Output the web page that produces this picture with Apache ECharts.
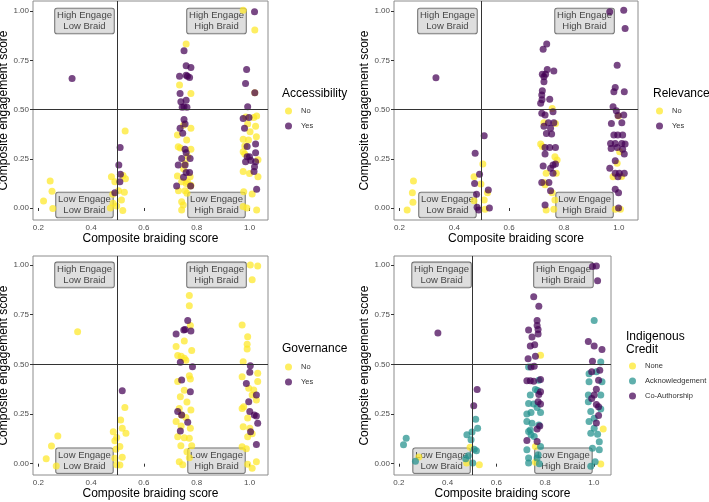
<!DOCTYPE html>
<html>
<head>
<meta charset="utf-8">
<script src="https://cdn.jsdelivr.net/npm/echarts@6/dist/echarts.min.js"></script>
<style>
  html, body { margin: 0; padding: 0; background: #fff; }
  #chart { width: 709px; height: 502px; }
</style>
</head>
<body>
<div id="chart"></div>
<script>
// ---- data: [braiding score (jittered), engagement score] ----
var accNo = [[0.245,0.137],[0.252,0.085],[0.22,0.036],[0.255,-0.002],
  [0.529,0.391],[0.477,0.159],[0.521,0.165],[0.49,0.134],[0.53,0.149],[0.504,0.088],[0.526,0.08],[0.482,0.07],[0.515,0.041],[0.483,0.024],[0.497,0.01],[0.473,0.0],[0.52,-0.013],
  [0.76,0.833],[0.735,0.625],[0.778,0.582],[0.778,0.405],[0.75,0.42],[0.727,0.371],[0.762,0.345],[0.73,0.311],[0.738,0.305],[0.778,0.298],[0.766,0.262],[0.756,0.227],[0.75,0.2],[0.727,0.163],[0.775,0.159],[0.765,0.134],[0.743,0.134],[0.76,0.125],[0.778,0.115],[0.777,0.112],[0.731,0.088],[0.756,0.088],[0.763,0.075],[0.743,0.032],[0.749,0.015],[0.743,-0.01],
  [0.976,1.005],[1.02,0.904],[1.02,0.586],[0.986,0.462],[1.016,0.46],[1.027,0.467],[0.993,0.427],[1.023,0.416],[1.002,0.388],[1.026,0.362],[0.976,0.349],[0.996,0.345],[0.982,0.315],[0.976,0.286],[0.982,0.275],[1.032,0.245],[0.976,0.185],[1.0,0.175],[1.032,0.159],[0.978,0.083],[1.01,0.071],[0.976,0.007],[0.99,0.0],[1.027,-0.01]];
var accYes = [[0.328,0.658],
  [0.51,0.308],[0.505,0.218],[0.511,0.171],[0.509,0.134],[0.49,0.078],
  [0.752,0.799],[0.76,0.723],[0.778,0.714],[0.765,0.67],[0.773,0.663],[0.735,0.67],[0.76,0.675],[0.737,0.582],[0.74,0.54],[0.76,0.548],[0.752,0.515],[0.763,0.512],[0.745,0.512],[0.752,0.45],[0.756,0.427],[0.737,0.405],[0.747,0.38],[0.756,0.298],[0.76,0.281],[0.743,0.252],[0.775,0.252],[0.73,0.218],[0.756,0.218],[0.76,0.18],[0.773,0.18],[0.75,0.156],[0.724,0.112],[0.777,0.112],
  [1.019,0.997],[0.989,0.704],[0.985,0.633],[1.02,0.586],[0.993,0.515],[0.976,0.455],[0.998,0.46],[0.981,0.405],[1.023,0.325],[0.991,0.312],[0.991,0.261],[1.0,0.261],[1.023,0.281],[0.985,0.235],[1.005,0.242],[1.023,0.235],[1.019,0.21],[1.017,0.185],[1.027,0.095]];

var relNo = [[0.251,0.137],[0.247,0.078],[0.249,0.029],[0.228,-0.01],
  [0.504,0.224],[0.472,0.159],[0.497,0.122],[0.521,0.078],[0.509,0.041],[0.472,0.037],[0.512,-0.007],
  [0.757,0.506],[0.727,0.433],[0.769,0.43],[0.715,0.325],[0.721,0.312],[0.767,0.261],[0.775,0.244],[0.772,0.176],[0.735,0.176],[0.727,0.129],[0.731,0.118],[0.757,0.078],[0.767,0.041],[0.763,-0.007],[0.735,-0.01],
  [0.999,0.467],[1.003,0.286],[0.994,0.227],[0.979,0.159],[1.01,0.16],[0.987,-0.007],[1.006,-0.007]];
var relYes = [[0.333,0.662],
  [0.476,0.278],[0.509,0.367],[0.492,0.171],[0.474,0.125],[0.524,0.091],[0.481,0.07],[0.483,0.004],[0.489,-0.01],[0.528,0.0],
  [0.737,0.833],[0.724,0.807],[0.739,0.704],[0.763,0.696],[0.721,0.68],[0.733,0.68],[0.727,0.667],[0.727,0.641],[0.721,0.596],[0.719,0.574],[0.748,0.553],[0.72,0.55],[0.715,0.532],[0.76,0.489],[0.719,0.481],[0.731,0.472],[0.743,0.433],[0.763,0.433],[0.751,0.405],[0.727,0.416],[0.736,0.379],[0.755,0.376],[0.731,0.308],[0.748,0.308],[0.769,0.308],[0.731,0.274],[0.76,0.219],[0.769,0.224],[0.751,0.202],[0.724,0.213],[0.76,0.176],[0.719,0.129],[0.745,0.129],[0.751,0.088],[0.731,0.015],
  [0.967,0.997],[1.018,1.005],[1.023,0.912],[0.994,0.726],[0.987,0.613],[0.982,0.591],[1.02,0.591],[0.979,0.515],[0.991,0.494],[0.997,0.47],[1.018,0.472],[1.011,0.433],[0.973,0.43],[0.982,0.371],[0.996,0.371],[1.014,0.371],[0.97,0.328],[0.987,0.328],[1.011,0.328],[1.023,0.325],[0.972,0.303],[0.994,0.308],[1.014,0.298],[1.02,0.274],[0.987,0.24],[0.967,0.202],[0.987,0.176],[1.002,0.176],[1.02,0.176],[0.997,0.159],[0.987,0.095],[0.999,0.078],[0.999,0.0]];

var govNo = [[0.349,0.664],[0.274,0.139],[0.25,0.089],[0.23,0.025],[0.268,-0.012],
  [0.528,0.283],[0.512,0.22],[0.484,0.161],[0.518,0.178],[0.532,0.153],[0.497,0.132],[0.49,0.115],[0.509,0.086],[0.494,0.072],[0.518,0.032],[0.49,0.027],[0.509,-0.007],[0.497,-0.005],
  [0.772,0.846],[0.772,0.795],[0.776,0.695],[0.753,0.617],[0.722,0.589],[0.781,0.569],[0.728,0.544],[0.741,0.54],[0.753,0.53],[0.759,0.52],[0.772,0.443],[0.776,0.426],[0.728,0.413],[0.753,0.37],[0.738,0.337],[0.763,0.31],[0.734,0.278],[0.778,0.27],[0.743,0.245],[0.759,0.232],[0.722,0.212],[0.741,0.19],[0.776,0.178],[0.728,0.136],[0.753,0.13],[0.772,0.128],[0.781,0.09],[0.74,0.09],[0.763,0.06],[0.772,0.03],[0.734,0.01],[0.747,-0.005],
  [1.003,1.0],[1.031,0.995],[1.01,0.925],[0.972,0.698],[0.993,0.639],[0.991,0.601],[0.991,0.577],[0.976,0.513],[1.031,0.455],[0.972,0.438],[1.031,0.413],[0.997,0.379],[1.016,0.371],[1.01,0.346],[1.026,0.321],[0.978,0.287],[0.972,0.278],[0.993,0.23],[0.976,0.186],[1.001,0.178],[1.01,0.15],[0.993,0.136],[0.972,0.085],[0.988,0.075],[1.026,0.01],[0.993,-0.003],[1.01,-0.023]];
var govYes = [[0.518,0.367],
  [0.766,0.72],[0.751,0.673],[0.756,0.675],[0.778,0.668],[0.722,0.653],[0.738,0.51],[0.784,0.488],[0.743,0.421],[0.776,0.362],[0.728,0.262],[0.743,0.245],[0.766,0.208],[0.738,0.165],
  [1.003,0.493],[1.001,0.46],[0.988,0.404],[1.026,0.346],[0.997,0.312],[1.001,0.262],[1.018,0.245],[1.026,0.24],[1.031,0.203],[1.004,0.161],[1.026,0.097]];

var creditNone = [[0.282,0.033],[0.492,0.083],[0.478,0.003],[0.53,-0.005],[0.781,0.545],[0.76,0.087],[0.76,0.007],[1.038,0.175],[1.028,-0.002]];
var creditAck = [[0.219,0.095],[0.23,0.128],[0.268,0.012],
  [0.515,0.223],[0.523,0.178],[0.479,0.145],[0.5,0.16],[0.496,0.12],[0.509,0.073],[0.518,0.065],[0.485,0.04],[0.503,0.003],[0.474,0.025],
  [0.732,0.487],[0.76,0.373],[0.774,0.42],[0.769,0.368],[0.739,0.345],[0.753,0.3],[0.732,0.303],[0.767,0.283],[0.781,0.258],[0.725,0.25],[0.742,0.258],[0.725,0.212],[0.746,0.203],[0.774,0.195],[0.739,0.17],[0.732,0.162],[0.755,0.137],[0.742,0.145],[0.781,0.087],[0.725,0.07],[0.771,0.045],[0.732,0.028],[0.767,0.028],[0.732,0.003],[0.776,0.0],
  [1.001,0.72],[1.028,0.512],[1.01,0.462],[0.98,0.453],[0.98,0.412],[1.033,0.412],[0.977,0.345],[1.028,0.345],[0.977,0.312],[1.028,0.275],[0.987,0.262],[1.001,0.228],[0.98,0.212],[1.001,0.178],[0.987,0.153],[1.015,0.148],[1.022,0.11],[1.022,0.07],[0.994,0.078],[1.005,0.01],[0.987,-0.013]];
var creditCo = [[0.36,0.657],
  [0.521,0.373],[0.507,0.292],
  [0.753,0.84],[0.774,0.792],[0.767,0.72],[0.767,0.695],[0.771,0.675],[0.771,0.653],[0.732,0.673],[0.746,0.637],[0.739,0.592],[0.757,0.598],[0.76,0.54],[0.73,0.528],[0.742,0.487],[0.755,0.49],[0.725,0.417],[0.739,0.417],[0.753,0.415],[0.781,0.423],[0.781,0.362],[0.774,0.348],[0.781,0.3],[0.771,0.312],[0.778,0.19],[0.767,0.175],[0.725,0.117],[0.767,0.112],
  [0.994,0.992],[1.01,0.995],[1.015,0.92],[0.977,0.615],[1.001,0.592],[1.033,0.575],[0.994,0.515],[0.991,0.462],[1.024,0.47],[1.019,0.42],[1.01,0.375],[1.001,0.345],[0.991,0.328],[1.01,0.298],[1.019,0.287],[1.019,0.242],[1.01,0.205]];

var xTicks = [0.2, 0.4, 0.6, 0.8, 1.0];
var yTicks = [0, 0.25, 0.5, 0.75, 1.0];
var quadLabels = ['High Engage\nLow Braid', 'High Engage\nHigh Braid', 'Low Engage\nLow Braid', 'Low Engage\nHigh Braid'];
var quadPos = [[0.375, 0.95], [0.875, 0.95], [0.375, 0.015], [0.875, 0.015]];

var YELLOW = '#FDE725', TEAL = '#21908C', PURPLE = '#440154';
var FONT = '"Liberation Sans", Arial, sans-serif';

var panels = [
  {title: 'Accessibility', groups: [['No', accNo, YELLOW], ['Yes', accYes, PURPLE]],
   grid: {left: 33, top: 1, width: 235, height: 219}, yRange: [-0.061, 1.052],
   titlePos: [282, 87], legendPos: [285, 107]},
  {title: 'Relevance', groups: [['No', relNo, YELLOW], ['Yes', relYes, PURPLE]],
   grid: {left: 394, top: 1, width: 244, height: 219}, yRange: [-0.061, 1.052],
   titlePos: [653, 87], legendPos: [656, 107]},
  {title: 'Governance', groups: [['No', govNo, YELLOW], ['Yes', govYes, PURPLE]],
   grid: {left: 33, top: 256, width: 235, height: 219}, yRange: [-0.057, 1.045],
   titlePos: [282, 342], legendPos: [285, 363]},
  {title: 'Indigenous\nCredit', groups: [['None', creditNone, YELLOW], ['Acknowledgement', creditAck, TEAL], ['Co-Authorship', creditCo, PURPLE]],
   grid: {left: 394, top: 256, width: 217, height: 219}, yRange: [-0.057, 1.045],
   titlePos: [626, 330], legendPos: [629, 362]}
];

var option = {
  animation: false,
  textStyle: {fontFamily: FONT},
  title: [], legend: [], grid: [], xAxis: [], yAxis: [], series: []
};

panels.forEach(function (p, i) {
  option.grid.push(Object.assign({
    show: true, borderColor: '#8c8c8c', borderWidth: 1, backgroundColor: '#fff',
    containLabel: false, outerBoundsMode: 'none'
  }, p.grid));
  option.xAxis.push({
    type: 'value', gridIndex: i, min: 0.18, max: 1.07,
    axisLine: {show: false},
    axisTick: {show: true, length: 3, customValues: xTicks, lineStyle: {color: '#333'}},
    axisLabel: {customValues: xTicks, fontSize: 8, color: '#4d4d4d', margin: 4,
      formatter: function (v) { return v.toFixed(1); }},
    splitLine: {show: false},
    name: 'Composite braiding score', nameLocation: 'middle', nameGap: 13,
    nameTextStyle: {fontSize: 12, color: '#000'}
  });
  option.yAxis.push({
    type: 'value', gridIndex: i, min: p.yRange[0], max: p.yRange[1],
    axisLine: {show: false},
    axisTick: {show: true, length: 3, customValues: yTicks, lineStyle: {color: '#333'}},
    axisLabel: {customValues: yTicks, fontSize: 8, color: '#4d4d4d', margin: 4,
      formatter: function (v) { return v.toFixed(2); }},
    splitLine: {show: false},
    name: 'Composite engagement score', nameLocation: 'middle', nameGap: 19,
    nameTextStyle: {fontSize: 12, color: '#000'}
  });
  option.title.push({
    text: p.title, left: p.titlePos[0], top: p.titlePos[1], padding: 0,
    textStyle: {fontSize: 12, fontWeight: 'normal', color: '#000', fontFamily: FONT, lineHeight: 13}
  });
  option.legend.push({
    left: p.legendPos[0], top: p.legendPos[1], orient: 'vertical', padding: 0,
    data: p.groups.map(function (g) { return g[0]; }),
    icon: 'circle', itemWidth: 7, itemHeight: 7, itemGap: 7, selectedMode: false,
    textStyle: {fontSize: 7.5, color: '#333', padding: [0, 0, 0, 4], fontFamily: FONT}
  });
  // quadrant labels (behind points) + reference lines at 0.5
  option.series.push({
    type: 'scatter', xAxisIndex: i, yAxisIndex: i, z: 1, silent: true,
    symbolSize: 1, itemStyle: {color: 'rgba(0,0,0,0)'},
    data: quadPos,
    label: {
      show: true, position: 'inside',
      formatter: function (d) { return quadLabels[d.dataIndex]; },
      backgroundColor: '#d6d6d6', borderColor: '#444', borderWidth: 0.8, borderRadius: 2,
      padding: [1, 2], fontSize: 9.5, lineHeight: 11.5, color: '#1a1a1a', align: 'center'
    },
    markLine: {
      silent: true, symbol: 'none', label: {show: false},
      lineStyle: {color: '#333', width: 1, type: 'solid'},
      data: [{xAxis: 0.5}, {yAxis: 0.5}]
    }
  });
  p.groups.forEach(function (g) {
    option.series.push({
      name: g[0], type: 'scatter', xAxisIndex: i, yAxisIndex: i, z: 3,
      symbolSize: 7, data: g[1],
      itemStyle: {color: g[2], opacity: 0.72}
    });
  });
});

var chart = echarts.init(document.getElementById('chart'));
chart.setOption(option);
</script>
</body>
</html>
